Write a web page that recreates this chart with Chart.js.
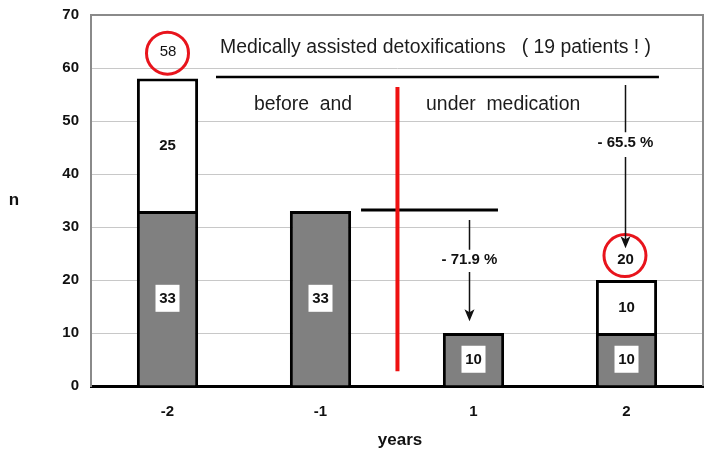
<!DOCTYPE html>
<html><head><meta charset="utf-8">
<script src="https://cdn.jsdelivr.net/npm/chart.js@4/dist/chart.umd.min.js"></script>
<style>html,body{margin:0;padding:0;background:#fff}#wrap{width:709px;height:453px;position:relative}</style>
</head><body><div id="wrap"><canvas id="c"></canvas></div>
<script>
const categories = ['-2', '-1', '1', '2'];
const baseValues = [33, 33, 10, 10];
const topValues = [25, null, null, 10];
const totals = [58, null, null, 20];
const yTickValues = [0, 10, 20, 30, 40, 50, 60, 70];
const changeLabels = ['- 71.9 %', '- 65.5 %'];
const titleText = 'Medically assisted detoxifications   ( 19 patients ! )';
const beforeText = 'before  and';
const underText = 'under  medication';
const yTitle = 'n';
const xTitle = 'years';

const FONT = "'Liberation Sans', Arial, sans-serif";

const annot = {
  id: 'annot',
  afterDraw(chart) {
    const ctx = chart.ctx;
    const xs = chart.scales.x, ys = chart.scales.y;
    const X = f => xs.getPixelForValue(f);
    const Y = v => ys.getPixelForValue(v);
    const a = chart.chartArea;
    ctx.save();
    // plot frame top/right
    ctx.strokeStyle = '#8a8a8a'; ctx.lineWidth = 2;
    ctx.beginPath(); ctx.moveTo(a.left, a.top); ctx.lineTo(a.right, a.top); ctx.lineTo(a.right, a.bottom); ctx.stroke();

    // segment labels
    ctx.textAlign = 'center'; ctx.textBaseline = 'middle';
    chart.data.datasets.forEach((ds, di) => {
      const meta = chart.getDatasetMeta(di);
      meta.data.forEach((el, i) => {
        const v = ds.data[i];
        if (v == null) return;
        const cy = (el.y + el.base) / 2;
        if (di === 0) {
          ctx.fillStyle = '#fff';
          ctx.fillRect(el.x - 12, cy - 13.5, 24, 27);
        }
        ctx.fillStyle = '#111';
        ctx.font = 'bold 15px ' + FONT;
        ctx.fillText(String(v), el.x, cy + 1);
      });
    });

    // totals with red circles
    const circ = [[0, 62.8, 63.0], [2.99, 24.6, 23.8]];
    [0, 3].forEach((idx, k) => {
      const [f, cv, tv] = circ[k];
      ctx.strokeStyle = '#e8141c'; ctx.lineWidth = 3;
      ctx.beginPath(); ctx.arc(X(f), Y(cv), 21, 0, Math.PI * 2); ctx.stroke();
      ctx.fillStyle = '#111';
      ctx.font = (k === 0 ? '' : 'bold ') + '15px ' + FONT;
      ctx.fillText(String(totals[idx]), X(f) + 0.5, Y(tv));
    });

    // texts
    ctx.fillStyle = '#1c1c1c';
    ctx.font = '19.4px ' + FONT;
    ctx.textAlign = 'left';
    ctx.fillText(titleText, X(0.343), Y(63.8));
    ctx.fillText(beforeText, X(0.565), Y(53.1));
    ctx.fillText(underText, X(1.69), Y(53.1));

    // black horizontal lines
    ctx.strokeStyle = '#000';
    ctx.lineWidth = 2.5;
    ctx.beginPath(); ctx.moveTo(X(0.317), Y(58.3)); ctx.lineTo(X(3.212), Y(58.3)); ctx.stroke();
    ctx.lineWidth = 3;
    ctx.beginPath(); ctx.moveTo(X(1.265), Y(33.2)); ctx.lineTo(X(2.16), Y(33.2)); ctx.stroke();

    // red vertical separator
    ctx.strokeStyle = '#ee1111'; ctx.lineWidth = 4;
    ctx.beginPath(); ctx.moveTo(X(1.503), Y(56.4)); ctx.lineTo(X(1.503), Y(2.8)); ctx.stroke();

    // arrows
    function arrow(f, v1, g1, g2, v2, label, lv) {
      const x = Math.round(X(f)) + 0.5;
      ctx.strokeStyle = '#111'; ctx.lineWidth = 1.5;
      ctx.beginPath();
      ctx.moveTo(x, Y(v1)); ctx.lineTo(x, Y(g1));
      ctx.moveTo(x, Y(g2)); ctx.lineTo(x, Y(v2) - 4);
      ctx.stroke();
      const ty = Y(v2);
      ctx.fillStyle = '#111';
      ctx.beginPath(); ctx.moveTo(x, ty); ctx.lineTo(x - 5, ty - 12); ctx.lineTo(x, ty - 9); ctx.lineTo(x + 5, ty - 12); ctx.closePath(); ctx.fill();
      ctx.textAlign = 'center';
      ctx.font = 'bold 15px ' + FONT;
      ctx.fillText(label, x, Y(lv));
    }
    arrow(1.97, 31.3, 25.7, 21.5, 12.2, changeLabels[0], 23.8);
    arrow(2.99, 56.8, 47.9, 43.2, 26.0, changeLabels[1], 45.8);

    // axis titles
    ctx.fillStyle = '#111';
    ctx.font = 'bold 17px ' + FONT;
    ctx.textAlign = 'center';
    ctx.fillText(yTitle, 14, (a.top + a.bottom) / 2);
    ctx.fillText(xTitle, 400, 440);
    ctx.restore();
  }
};

new Chart(document.getElementById('c'), {
  type: 'bar',
  data: {
    labels: categories,
    datasets: [
      { data: baseValues, backgroundColor: '#808080', borderColor: '#000', borderWidth: 3, stack: 's' },
      { data: topValues, backgroundColor: '#ffffff', borderColor: '#000', borderWidth: 3, stack: 's' }
    ]
  },
  options: {
    responsive: true,
    maintainAspectRatio: false,
    animation: false,
    devicePixelRatio: 1,
    layout: { padding: { top: 15, right: 6, left: 0, bottom: 0 } },
    plugins: { legend: { display: false }, tooltip: { enabled: false } },
    datasets: { bar: { categoryPercentage: 1, barPercentage: 0.4 } },
    scales: {
      x: {
        stacked: true,
        grid: { display: false, drawTicks: false },
        border: { color: '#000', width: 3 },
        ticks: { color: '#111', font: { family: FONT, size: 15, weight: 'bold' }, padding: 17 },
        afterFit(s) { s.height = 67; s.paddingLeft = 0; s.paddingRight = 0; }
      },
      y: {
        stacked: true,
        min: 0, max: 70,
        afterBuildTicks(s) { s.ticks = yTickValues.map(v => ({ value: v })); },
        grid: { color: '#c8c8c8', lineWidth: 1, drawTicks: false },
        border: { color: '#8a8a8a', width: 2 },
        ticks: { color: '#111', font: { family: FONT, size: 15, weight: 'bold' }, padding: 12 },
        afterFit(s) { s.width = 91; s.paddingTop = 0; s.paddingBottom = 0; }
      }
    }
  },
  plugins: [annot]
});
</script>
</body></html>
